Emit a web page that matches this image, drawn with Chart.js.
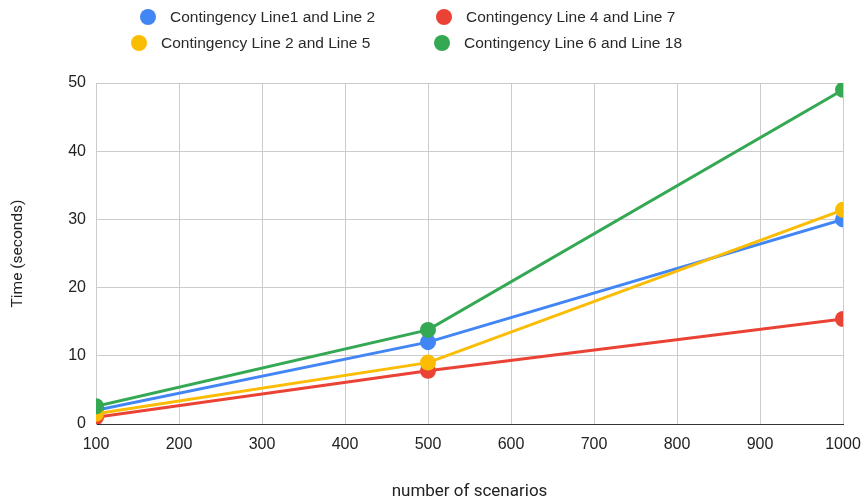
<!DOCTYPE html>
<html>
<head>
<meta charset="utf-8">
<script src="https://cdn.jsdelivr.net/npm/chart.js@4/dist/chart.umd.min.js"></script>
<style>
  html, body { margin: 0; padding: 0; background: #fff; }
  #wrap { position: relative; width: 865px; height: 503px; }
  #chart { position: absolute; left: 0; top: 0; }
  .leg { position: absolute; display: flex; align-items: center; font: 15.5px "Liberation Sans", Arial, sans-serif; color: #2a2a2a; white-space: nowrap; }
  .leg .dot { width: 16px; height: 16px; border-radius: 50%; margin-right: 14px; }
</style>
</head>
<body>
<div id="wrap">
  <canvas id="chart" width="865" height="503"></canvas>
</div>
<script>
// Number of scenarios on the x axis
const scenarios = [100, 500, 1000];

// Run time in seconds for each contingency case
const line1and2 = [2.0, 12.0, 30.0];
const line4and7 = [1.0, 7.8, 15.4];
const line2and5 = [1.5, 9.0, 31.4];
const line6and18 = [2.6, 13.8, 49.0];

const seriesNames = [
  'Contingency Line1 and Line 2',
  'Contingency Line 4 and Line 7',
  'Contingency Line 2 and Line 5',
  'Contingency Line 6 and Line 18'
];
const seriesValues = [line1and2, line4and7, line2and5, line6and18];
const seriesColors = ['#4285F4', '#EA4335', '#FBBC04', '#34A853'];

const xTicks = [100, 200, 300, 400, 500, 600, 700, 800, 900, 1000];
const yTicks = [0, 10, 20, 30, 40, 50];

// Legend: two rows of two entries above the plot
const legendSpots = [
  { left: 140, top: 8 },
  { left: 436, top: 8 },
  { left: 131, top: 34 },
  { left: 434, top: 34 }
];
const wrap = document.getElementById('wrap');
seriesNames.forEach((name, i) => {
  const el = document.createElement('div');
  el.className = 'leg';
  el.style.left = legendSpots[i].left + 'px';
  el.style.top = legendSpots[i].top + 'px';
  const dot = document.createElement('span');
  dot.className = 'dot';
  dot.style.background = seriesColors[i];
  const txt = document.createElement('span');
  txt.textContent = name;
  el.appendChild(dot);
  el.appendChild(txt);
  wrap.appendChild(el);
});

const datasets = seriesNames.map((name, i) => ({
  label: name,
  data: scenarios.map((x, j) => ({ x: x, y: seriesValues[i][j] })),
  borderColor: seriesColors[i],
  backgroundColor: seriesColors[i],
  borderWidth: 3,
  pointRadius: 8,
  pointHoverRadius: 8,
  pointBorderWidth: 0,
  order: seriesNames.length - i
}));

const tickFont = { family: '"Liberation Sans", Arial, sans-serif', size: 16 };

new Chart(document.getElementById('chart'), {
  type: 'line',
  data: { datasets: datasets },
  options: {
    responsive: false,
    animation: false,
    layout: { padding: { top: 83, right: 22, left: 0, bottom: 0 } },
    plugins: {
      legend: { display: false },
      tooltip: { enabled: false }
    },
    scales: {
      x: {
        type: 'linear',
        min: xTicks[0],
        max: xTicks[xTicks.length - 1],
        afterBuildTicks: s => { s.ticks = xTicks.map(v => ({ value: v })); },
        afterFit: s => { s.height = 79; s.paddingLeft = 0; s.paddingRight = 0; },
        grid: { color: '#cccccc', lineWidth: 1, drawTicks: false },
        border: { color: '#333333', width: 1 },
        ticks: { color: '#222', font: tickFont, padding: 11, maxRotation: 0, autoSkip: false, callback: v => String(v) },
        title: { display: true, text: 'number of scenarios', color: '#222', font: { family: 'Roboto, "Liberation Sans", Arial, sans-serif', size: 17 }, padding: { top: 0, bottom: 1 } }
      },
      y: {
        min: yTicks[0],
        max: yTicks[yTicks.length - 1],
        afterBuildTicks: s => { s.ticks = yTicks.map(v => ({ value: v })); },
        afterFit: s => { s.width = 96; },
        grid: {
          color: c => (c.tick && c.tick.value === 0 ? '#333333' : '#cccccc'),
          lineWidth: 1,
          drawTicks: false
        },
        border: { color: '#cccccc', width: 1 },
        ticks: { color: '#222', font: tickFont, padding: 10 },
        title: { display: true, text: 'Time (seconds)', color: '#222', font: { family: 'Roboto, "Liberation Sans", Arial, sans-serif', size: 15.5 }, padding: { top: 9, bottom: 0 } }
      }
    }
  }
});
</script>
</body>
</html>
